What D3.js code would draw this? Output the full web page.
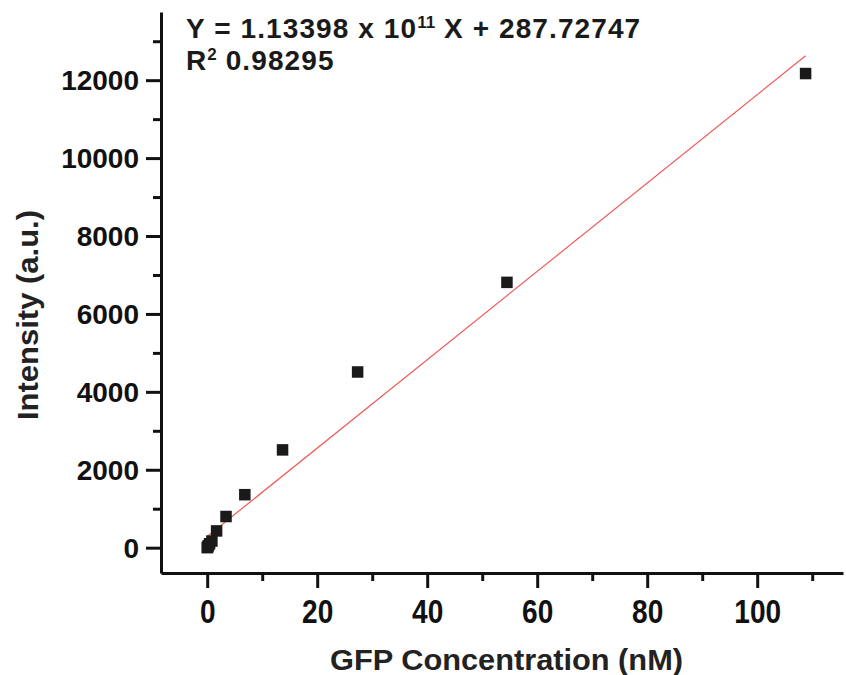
<!DOCTYPE html>
<html>
<head>
<meta charset="utf-8">
<script src="https://cdn.jsdelivr.net/npm/d3@7"></script>
<style>
  html, body { margin: 0; padding: 0; background: #fff; }
  svg { display: block; }
</style>
</head>
<body>
<svg id="chart" width="846" height="675"></svg>
<script>
// ---- data ----
const concentration = [0, 0.107, 0.214, 0.427, 0.855, 1.71, 3.42, 6.84, 13.7, 27.35, 54.5, 108.8];
const intensity     = [0, 20, 50, 100, 170, 430, 800, 1360, 2510, 4510, 6810, 12170];
const fitSlope = 113.398;        // per nM (1.13398e11 per M)
const fitIntercept = 287.72747;
const xTicks = [0, 20, 40, 60, 80, 100];
const xMinorTicks = [10, 30, 50, 70, 90, 110];
const yTicks = [0, 2000, 4000, 6000, 8000, 10000, 12000];
const yMinorTicks = [1000, 3000, 5000, 7000, 9000, 11000, 13000];
const xTitle = "GFP Concentration (nM)";
const yTitle = "Intensity (a.u.)";

const svg = d3.select("#chart");
const mLeft = 161, mRight = 843, mTop = 12, mBottom = 573;

const x = d3.scaleLinear().domain([-8.4, 115.6]).range([mLeft, mRight]);
const y = d3.scaleLinear().domain([-650, 13750]).range([mBottom, mTop]);

const font = "'Liberation Sans', Arial, sans-serif";

// x axis
const xAxis = svg.append("g").attr("transform", `translate(0,${mBottom})`);
xAxis.call(d3.axisBottom(x).tickValues(xTicks).tickFormat(d3.format("d"))
  .tickSize(15).tickPadding(12).tickSizeOuter(0));
xAxis.append("g").call(d3.axisBottom(x).tickValues(xMinorTicks).tickSize(8).tickFormat("").tickSizeOuter(0))
  .select(".domain").remove();
// y axis
const yAxis = svg.append("g").attr("transform", `translate(${mLeft},0)`);
yAxis.call(d3.axisLeft(y).tickValues(yTicks).tickFormat(d3.format("d"))
  .tickSize(15).tickPadding(7).tickSizeOuter(0));
yAxis.append("g").call(d3.axisLeft(y).tickValues(yMinorTicks).tickSize(8).tickFormat("").tickSizeOuter(0))
  .select(".domain").remove();

svg.selectAll(".domain").attr("stroke", "#111").attr("stroke-width", 3);
svg.selectAll(".tick line").attr("stroke", "#111").attr("stroke-width", 3);
xAxis.selectAll(".tick text")
  .attr("font-family", font).attr("font-weight", "bold").attr("font-size", 33)
  .attr("transform", "scale(0.85,1)")
  .attr("fill", "#111");
yAxis.selectAll(".tick text")
  .attr("font-family", font).attr("font-weight", "bold").attr("font-size", 28)
  .attr("fill", "#111").attr("dy", "0.35em");

// fit line
const fitX = [d3.min(concentration), d3.max(concentration)];
svg.append("line")
  .attr("x1", x(fitX[0])).attr("y1", y(fitIntercept + fitSlope * fitX[0]))
  .attr("x2", x(fitX[1])).attr("y2", y(fitIntercept + fitSlope * fitX[1]))
  .attr("stroke", "#f05a5a").attr("stroke-width", 1.2);

// points
const sq = 11.5;
svg.append("g").selectAll("rect")
  .data(concentration.map((c, i) => [c, intensity[i]]))
  .join("rect")
  .attr("x", d => x(d[0]) - sq / 2)
  .attr("y", d => y(d[1]) - sq / 2)
  .attr("width", sq).attr("height", sq)
  .attr("fill", "#1a1a1a");

// axis titles
svg.append("text")
  .attr("x", 330).attr("y", 670)
  .attr("textLength", 353).attr("lengthAdjust", "spacingAndGlyphs")
  .attr("font-family", font).attr("font-weight", "bold").attr("font-size", 29)
  .attr("fill", "#222").text(xTitle);
svg.append("text")
  .attr("transform", `translate(38,420) rotate(-90)`)
  .attr("textLength", 210).attr("lengthAdjust", "spacingAndGlyphs")
  .attr("font-family", font).attr("font-weight", "bold").attr("font-size", 29)
  .attr("fill", "#222").text(yTitle);

// annotation
const annStyle = sel => sel.attr("font-family", font).attr("font-weight", "bold")
  .attr("font-size", 28).attr("letter-spacing", 1.1).attr("fill", "#1a1a1a");
const ann1 = svg.append("text").attr("x", 186).attr("y", 38).call(annStyle);
ann1.append("tspan").text("Y = 1.13398 x 10");
ann1.append("tspan").attr("font-size", 17).attr("letter-spacing", 0).attr("dy", -10).text("11");
ann1.append("tspan").attr("dy", 10).text(" X + 287.72747");
const ann2 = svg.append("text").attr("x", 186).attr("y", 70).call(annStyle);
ann2.append("tspan").text("R");
ann2.append("tspan").attr("font-size", 17).attr("letter-spacing", 0).attr("dy", -10).text("2");
ann2.append("tspan").attr("dy", 10).text(" 0.98295");
</script>
</body>
</html>
